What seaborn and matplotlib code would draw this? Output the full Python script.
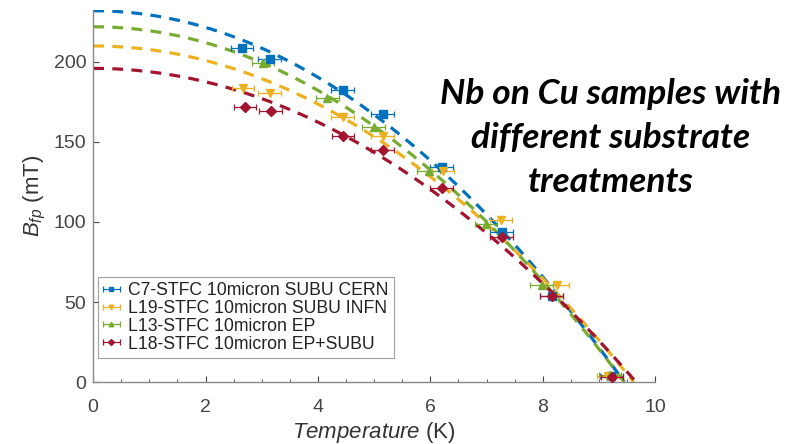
import numpy as np
import pandas as pd
import matplotlib
matplotlib.use('Agg')
import matplotlib.pyplot as plt
import seaborn as sns
from matplotlib.ticker import MultipleLocator

# Samples
labels = [
    'C7-STFC 10micron SUBU CERN',
    'L19-STFC 10micron SUBU INFN',
    'L13-STFC 10micron EP',
    'L18-STFC 10micron EP+SUBU',
]
colors = ['#0072BD', '#EDB120', '#77AC30', '#A2142F']
markers = ['s', 'v', '^', 'D']

# Measured points (T in K, Bfp in mT)
temp_c7 = [2.65, 3.14, 4.44, 5.15, 6.20, 7.27, 8.16, 9.22]
bfp_c7 = [208.6, 202.0, 182.5, 167.3, 134.2, 93.8, 53.8, 3.8]

temp_l19 = [2.67, 3.14, 4.44, 5.15, 6.23, 7.26, 8.26, 9.16]
bfp_l19 = [183.6, 180.4, 165.4, 153.8, 132.0, 101.0, 60.6, 3.8]

temp_l13 = [3.02, 4.17, 4.99, 5.97, 6.99, 7.98, 9.20]
bfp_l13 = [199.2, 177.3, 159.6, 132.0, 98.8, 60.6, 4.4]

temp_l18 = [2.70, 3.16, 4.45, 5.15, 6.20, 7.27, 8.16, 9.23]
bfp_l18 = [172.0, 169.4, 153.8, 145.0, 121.0, 90.8, 53.8, 3.1]

temp_err = 0.2

# Parabolic fit parameters B0 (mT) and Tc (K)
fit_b0 = [232.0, 210.0, 222.0, 196.0]
fit_tc = [9.45, 9.62, 9.45, 9.66]

temps = [temp_c7, temp_l19, temp_l13, temp_l18]
bfps = [bfp_c7, bfp_l19, bfp_l13, bfp_l18]

sns.set_theme(style='white')
plt.rcParams['font.family'] = ['Liberation Sans', 'DejaVu Sans']
plt.rcParams['mathtext.fontset'] = 'custom'
plt.rcParams['mathtext.it'] = 'Liberation Sans:italic'
plt.rcParams['mathtext.rm'] = 'Liberation Sans'

fig = plt.figure(figsize=(7.96, 4.44), dpi=100)
ax = fig.add_axes([0.117, 0.1396, 0.706, 0.838])

# Fit curves
for b0, tc, c in zip(fit_b0, fit_tc, colors):
    t = np.linspace(0, tc, 200)
    fit = pd.DataFrame({'T': t, 'B': b0 * (1 - (t / tc) ** 2)})
    sns.lineplot(data=fit, x='T', y='B', ax=ax, color=c, lw=2.3,
                 dashes=False, legend=False, zorder=2)
    ax.lines[-1].set_dashes((3.4, 2.6))

# Data points with error bars
for t, b, c, m, lab in zip(temps, bfps, colors, markers, labels):
    ax.errorbar(t, b, xerr=temp_err, fmt=m, color=c, ecolor=c,
                elinewidth=0.9, capsize=2.5, capthick=0.9,
                markersize=6 if m != 'D' else 5.5, label=lab, zorder=3)

ax.set_xlim(0, 10)
ax.set_ylim(0, 232.5)
ax.xaxis.set_major_locator(MultipleLocator(2))
ax.xaxis.set_minor_locator(MultipleLocator(0.5))
ax.yaxis.set_major_locator(MultipleLocator(50))
ax.tick_params(which='both', direction='in', colors='#444444',
               labelsize=14, bottom=True, left=True)
ax.tick_params(which='major', length=4, width=0.8, pad=5)
ax.tick_params(which='minor', length=2.5, width=0.6)
ax.tick_params(axis='x', which='major', pad=12)
for s in ['top', 'right']:
    ax.spines[s].set_visible(False)
for s in ['left', 'bottom']:
    ax.spines[s].set_color('#888888')
    ax.spines[s].set_linewidth(1.0)

ax.set_xlabel(r'$Temperature$ (K)', fontsize=16, color='#333333', labelpad=3)
ax.set_ylabel(r'$B_{fp}$ (mT)', fontsize=16, color='#333333', labelpad=4)

leg = ax.legend(loc='lower left', fontsize=12.7, frameon=True,
                handlelength=0.9, handletextpad=0.5, borderpad=0.3,
                labelspacing=0.05, markerscale=0.55, fancybox=False,
                borderaxespad=0, bbox_to_anchor=(0.009, 0.065))
leg.get_frame().set_edgecolor('#888888')
leg.get_frame().set_linewidth(0.8)
for txt in leg.get_texts():
    txt.set_color('#222222')

fig.text(0.767, 0.689, 'Nb on Cu samples with\ndifferent substrate\ntreatments',
         ha='center', va='center', fontsize=25.5, fontweight='bold',
         fontstyle='italic', family=['Lato', 'DejaVu Sans'],
         linespacing=1.45, color='black')

fig.savefig('out.png', dpi=100)
